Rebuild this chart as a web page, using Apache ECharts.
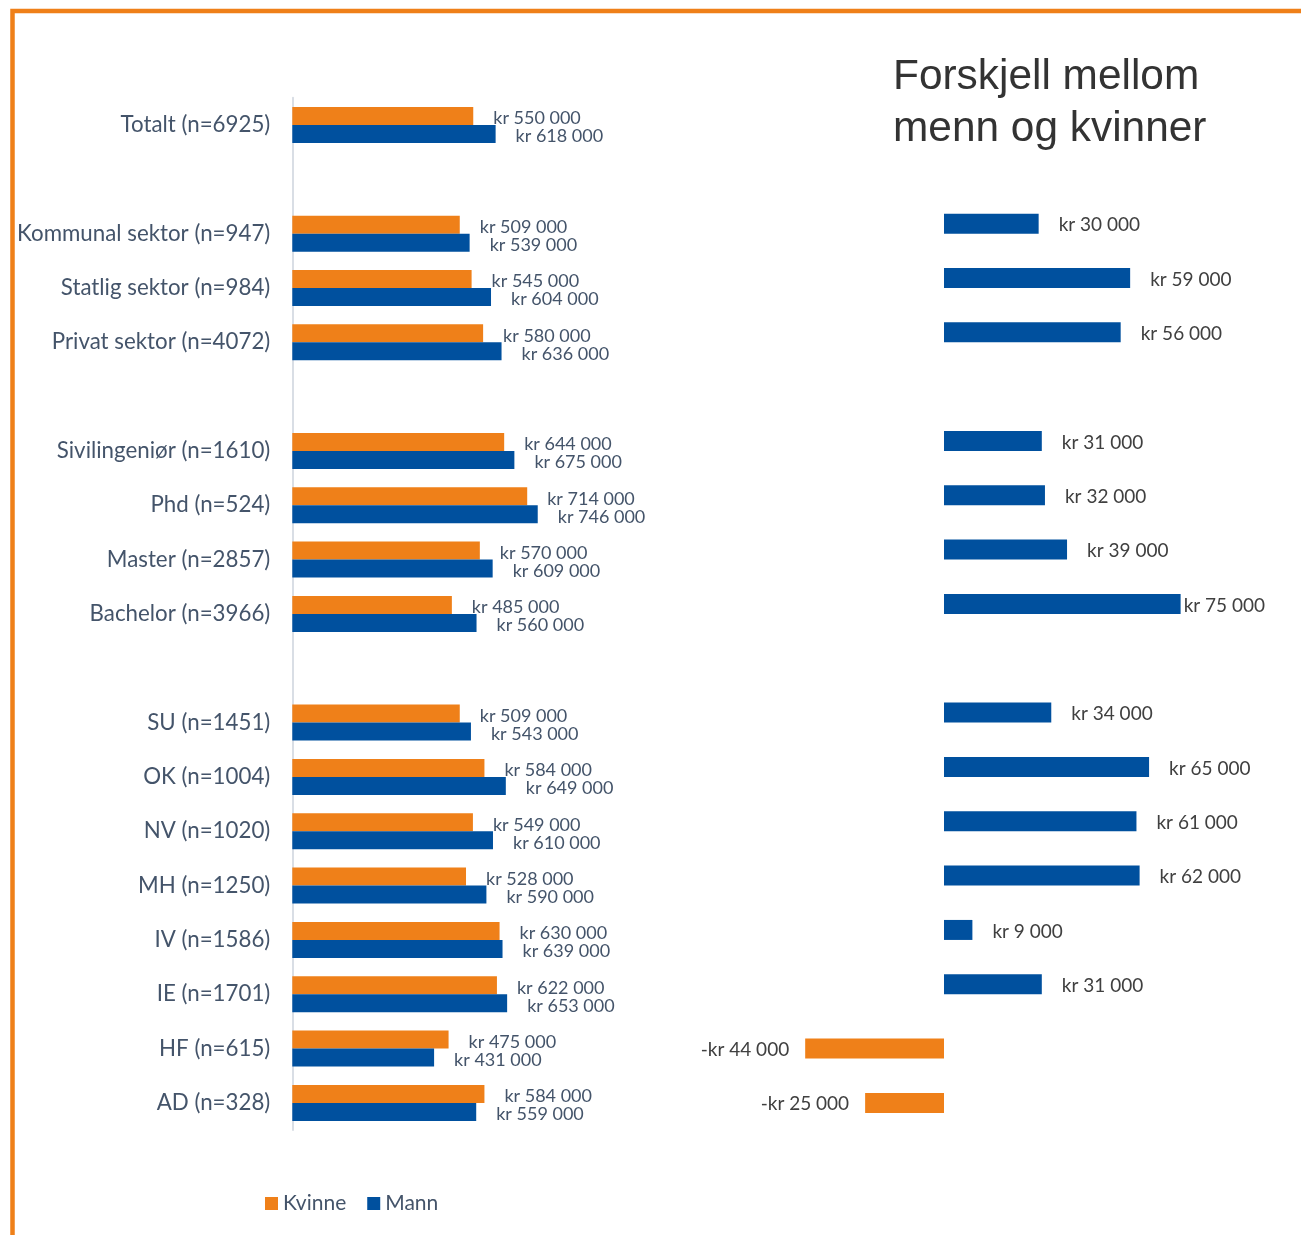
<!DOCTYPE html>
<html>
<head>
<meta charset="utf-8">
<script src="https://cdn.jsdelivr.net/npm/echarts@6/dist/echarts.min.js"></script>
<style>
  html, body { margin: 0; padding: 0; background: #ffffff; }
  #chart { width: 1301px; height: 1235px; }
</style>
</head>
<body>
<div id="chart"></div>
<script>
// Categories (empty strings are spacer rows between groups)
const categories = [
  'Totalt (n=6925)',
  '',
  'Kommunal sektor (n=947)',
  'Statlig sektor (n=984)',
  'Privat sektor (n=4072)',
  '',
  'Sivilingeniør (n=1610)',
  'Phd (n=524)',
  'Master (n=2857)',
  'Bachelor (n=3966)',
  '',
  'SU (n=1451)',
  'OK (n=1004)',
  'NV (n=1020)',
  'MH (n=1250)',
  'IV (n=1586)',
  'IE (n=1701)',
  'HF (n=615)',
  'AD (n=328)'
];

// Average salary, women
const kvinne = [550000, null, 509000, 545000, 580000, null, 644000, 714000, 570000, 485000, null,
  509000, 584000, 549000, 528000, 630000, 622000, 475000, 584000];

// Average salary, men
const mann = [618000, null, 539000, 604000, 636000, null, 675000, 746000, 609000, 560000, null,
  543000, 649000, 610000, 590000, 639000, 653000, 431000, 559000];

// Difference between men and women
const forskjell = [null, null, 30000, 59000, 56000, null, 31000, 32000, 39000, 75000, null,
  34000, 65000, 61000, 62000, 9000, 31000, -44000, -25000];

const seriesNames = ['Kvinne', 'Mann'];
const titleText = 'Forskjell mellom\nmenn og kvinner';

const ORANGE = '#EF8019';
const BLUE = '#00509E';
const TEXT_BLUE = '#44546A';
const TEXT_GREY = '#404040';
const FONT = 'Lato';

function kr(v) {
  const s = String(Math.abs(v)).replace(/\B(?=(\d{3})+(?!\d))/g, ' ');
  return (v < 0 ? '-kr ' : 'kr ') + s;
}

// Right-hand panel: labels that would run past the panel edge sit close to their bar
const DIFF_MAX = 100000;
const posDiff = forskjell.map(v => {
  if (v == null || v <= 0) return null;
  return v > 0.68 * DIFF_MAX ? { value: v, label: { distance: 3 } } : v;
});
const negDiff = forskjell.map(v => (v != null && v < 0 ? v : null));

const chart = echarts.init(document.getElementById('chart'));

const gridTop = 97.8;
const gridBottom = 104.9;

const leftLabel = {
  show: true,
  position: 'right',
  distance: 20,
  offset: [0, 2.5],
  fontFamily: FONT,
  fontSize: 18,
  color: TEXT_BLUE,
  formatter: p => kr(p.value)
};

chart.setOption({
  animation: false,
  backgroundColor: '#ffffff',
  title: {
    text: titleText,
    left: 888,
    top: 46,
    textStyle: {
      fontFamily: 'Liberation Sans',
      fontSize: 42.4,
      fontWeight: 'normal',
      color: '#333333',
      lineHeight: 52
    }
  },
  legend: {
    data: seriesNames,
    left: 260,
    top: 1188,
    icon: 'rect',
    itemWidth: 13,
    itemHeight: 13,
    itemGap: 21,
    textStyle: { fontFamily: FONT, fontSize: 21, color: TEXT_BLUE }
  },
  grid: [
    { left: 292.3, width: 329, top: gridTop, bottom: gridBottom },
    { left: 786.25, width: 473.25, top: gridTop, bottom: gridBottom }
  ],
  xAxis: [
    { gridIndex: 0, type: 'value', min: 0, max: 1000000, show: false },
    { gridIndex: 1, type: 'value', min: -50000, max: DIFF_MAX, show: false }
  ],
  yAxis: [
    {
      gridIndex: 0,
      type: 'category',
      data: categories,
      inverse: true,
      axisLine: { show: true, lineStyle: { color: '#D9DEE5', width: 2 } },
      axisTick: { show: false },
      axisLabel: {
        margin: 22,
        fontFamily: FONT,
        fontSize: 22.3,
        color: TEXT_BLUE
      },
      splitLine: { show: false }
    },
    {
      gridIndex: 1,
      type: 'category',
      data: categories,
      inverse: true,
      show: false
    }
  ],
  series: [
    {
      name: 'Kvinne',
      type: 'bar',
      xAxisIndex: 0,
      yAxisIndex: 0,
      data: kvinne,
      barWidth: 18,
      barGap: 0,
      itemStyle: { color: ORANGE },
      label: leftLabel
    },
    {
      name: 'Mann',
      type: 'bar',
      xAxisIndex: 0,
      yAxisIndex: 0,
      data: mann,
      barWidth: 18,
      barGap: 0,
      itemStyle: { color: BLUE },
      label: leftLabel
    },
    {
      name: 'diffPos',
      type: 'bar',
      xAxisIndex: 1,
      yAxisIndex: 1,
      data: posDiff,
      barWidth: 20,
      barGap: '-50%',
      itemStyle: { color: BLUE },
      label: {
        show: true,
        position: 'right',
        distance: 20,
        offset: [0, 1.5],
        fontFamily: FONT,
        fontSize: 19,
        color: TEXT_GREY,
        formatter: p => kr(p.value)
      }
    },
    {
      name: 'diffNeg',
      type: 'bar',
      xAxisIndex: 1,
      yAxisIndex: 1,
      data: negDiff,
      barWidth: 20,
      barGap: '-50%',
      itemStyle: { color: ORANGE },
      label: {
        show: true,
        position: 'left',
        distance: 16,
        offset: [0, 1],
        fontFamily: FONT,
        fontSize: 19,
        color: TEXT_GREY,
        formatter: p => kr(p.value)
      }
    },
    {
      name: 'spacer',
      type: 'bar',
      xAxisIndex: 1,
      yAxisIndex: 1,
      data: categories.map(() => null),
      barWidth: 20,
      barGap: '-50%'
    }
  ],
  graphic: [
    {
      type: 'polyline',
      shape: { points: [[12.5, 1235], [12.5, 11], [1301, 11]] },
      style: { stroke: ORANGE, lineWidth: 4.5, fill: null },
      silent: true
    }
  ]
});
</script>
</body>
</html>
